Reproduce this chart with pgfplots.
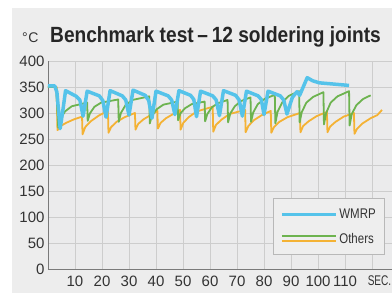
\documentclass[border=0pt]{standalone}
\usepackage{fontspec}
\setmainfont{Liberation Sans}
\newfontfamily\titlefont[FakeStretch=0.87]{Liberation Sans}
\newfontfamily\condfont[FakeStretch=0.82]{Liberation Sans}
\newfontfamily\seccfont[FakeStretch=0.72]{Liberation Sans}
\usepackage{pgfplots}
\pgfplotsset{compat=1.18}
\definecolor{cyanw}{HTML}{55C3EA}
\definecolor{greenw}{HTML}{6DB34F}
\definecolor{orangew}{HTML}{F4B234}
\definecolor{panel}{HTML}{EDEDED}
\definecolor{plotbg}{HTML}{EBEBEC}
\definecolor{gridgray}{HTML}{CDCDCD}
\definecolor{axisgray}{HTML}{7A7A7A}
\definecolor{labelgray}{HTML}{333333}
\definecolor{titlegray}{HTML}{262626}
\definecolor{legendbg}{HTML}{EEEEEE}
\definecolor{legendborder}{HTML}{B8B8B8}
\begin{document}
\begin{tikzpicture}[x=1pt,y=1pt]
\fill[white] (0,0) rectangle (392,295);
\fill[panel] (12,2) rectangle (392,287);
\node[anchor=base west, font=\titlefont\bfseries\fontsize{22}{24}\selectfont, text=titlegray, inner sep=0] at (50,252) {Benchmark test\,–\,12 soldering joints};
\node[anchor=base west, font=\fontsize{14}{15}\selectfont, text=labelgray, inner sep=0] at (22,252) {°\kern0.5pt C};
\begin{axis}[
  at={(48pt,26pt)}, anchor=south west,
  width=344pt, height=208pt, scale only axis,
  xmin=0, xmax=127.4, ymin=0, ymax=400,
  axis x line*=bottom, axis y line*=left,
  axis line style={draw=axisgray, line width=0.9pt},
  axis background/.style={fill=plotbg},
  grid=major, grid style={draw=gridgray, line width=0.6pt},
  major tick length=0pt,
  xtick={10,20,30,40,50,60,70,80,90,100,110,120},
  xticklabels={10,20,30,40,50,60,70,80,90,100,110,{\hspace*{15pt}{\seccfont\fontsize{14}{14}\selectfont SEC.}}},
  ytick={0,50,100,150,200,250,300,350,400},
  /pgf/number format/assume math mode=true,
  tick label style={font=\fontsize{15}{15}\selectfont, text=labelgray},
  xticklabel style={yshift=-3pt},
  legend style={at={(0.98,0.067)}, anchor=south east, fill=legendbg, draw=legendborder, line width=0.8pt,
    font=\condfont\fontsize{14}{15}\selectfont, text=labelgray, row sep=9pt, inner xsep=7pt, inner ysep=8pt},
  legend cell align=left,
  every axis plot/.append style={line join=round},
]
\addplot[orangew, line width=1.8pt, forget plot] coordinates {
(0,350) (3.2,350) (3.5,267) (4.7,275) (6.7,281) (9.7,288) (12.6,293)
(12.8,259) (13.8,273) (15.8,284) (18.8,295) (22.2,304)
(22.4,262) (23.4,273) (25.4,283) (28.4,292) (32.2,300)
(32.4,268) (33.4,279) (35.4,288) (38.4,297) (40.5,304)
(40.7,270) (41.7,281) (43.7,290) (46.7,299) (48.9,306)
(49.1,268) (50.1,281) (52.1,292) (55.1,303) (61,312)
(61.2,264) (62.2,277) (64.2,287) (67.2,298) (73,306)
(73.2,263) (74.2,275) (76.2,286) (79.2,296) (82.5,304)
(82.7,262) (83.7,273) (85.7,283) (88.7,292) (93.3,300)
(93.5,263) (94.5,275) (96.5,284) (99.5,294) (103.3,302)
(103.5,263) (104.5,274) (106.5,283) (109.5,293) (113.3,300)
(113.5,260) (114.5,270) (116.5,280) (119.5,290) (122,296) (123.7,306)
};
\addplot[greenw, line width=1.8pt, forget plot] coordinates {
(0,350) (3,350) (3.8,272) (4.6,289) (6.3,303) (8.8,313) (14.5,320)
(14.7,285) (15.5,299) (17.2,312) (19.7,320) (26,326)
(26.2,283) (27,300) (28.7,315) (31.2,325) (37.5,332)
(37.7,280) (38.5,295) (40.2,307) (42.7,316) (48,322)
(48.2,286) (49,299) (50.7,309) (53.2,317) (58,322)
(58.2,284) (59,298) (60.7,311) (63,319) (66.5,325)
(66.7,282) (67.5,299) (69.2,313) (71.5,323) (75,330)
(75.2,283) (76,301) (77.7,317) (80.2,327) (84,335)
(84.2,280) (85,302) (86.7,320) (89.2,333) (93,342)
(93.2,282) (94,302) (95.7,320) (98.2,331) (102,340)
(102.2,278) (103,300) (104.7,320) (107.2,332) (111.5,342)
(111.7,276) (112.5,298) (114.2,315) (116.7,327) (119.5,334)
};
\addplot[cyanw, line width=3.5pt, forget plot] coordinates {
(0,352) (2.5,352) (3.3,340) (4.5,270) (5.5,305) (6.5,343) (10.5,332) (11.8,325)
(13,294) (14.5,342) (19,333) (20.3,324)
(21.5,292) (23,343) (27.5,333) (28.8,325)
(30,296) (31.5,344) (36,334) (37.3,324)
(38.5,290) (40,342) (44.5,333) (45.8,325)
(47,297) (48.5,343) (52.8,334) (54,326)
(55,293) (56.5,342) (61,333) (62.3,325)
(63.5,295) (65,343) (69.5,334) (70.8,325)
(72,294) (73.5,342) (77.8,333) (79,326)
(80,297) (81.5,342) (86,333) (87.3,325)
(88.5,298) (90.5,330) (92.2,341) (93.2,334) (96,368) (98,362) (100.5,358) (105,356) (111.5,353)
};
\addlegendimage{legend image code/.code={\draw[cyanw, line width=3pt] (0pt,0pt) -- (54pt,0pt);}}
\addlegendentry{WMRP}
\addlegendimage{legend image code/.code={\draw[greenw, line width=2pt] (0pt,2.4pt) -- (54pt,2.4pt); \draw[orangew, line width=2pt] (0pt,-2.4pt) -- (54pt,-2.4pt);}}
\addlegendentry{Others}
\end{axis}
\pgfresetboundingbox
\useasboundingbox (0,0) rectangle (392,295);
\end{tikzpicture}
\end{document}
